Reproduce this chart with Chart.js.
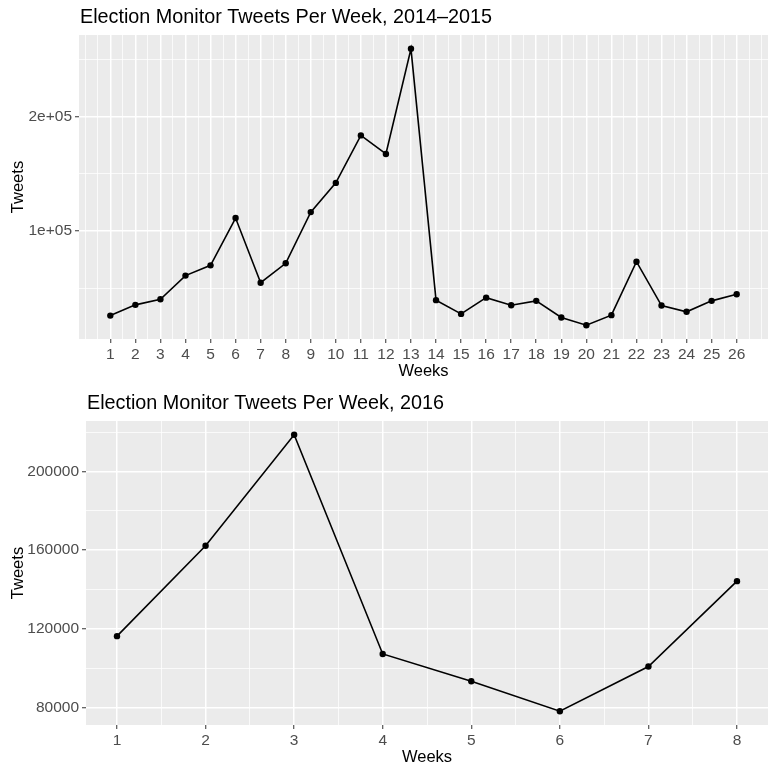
<!DOCTYPE html>
<html>
<head>
<meta charset="utf-8">
<script src="https://cdn.jsdelivr.net/npm/chart.js@4/dist/chart.umd.min.js"></script>
<style>
  html, body { margin: 0; padding: 0; background: #fff; }
  canvas { display: block; }
</style>
</head>
<body>
<canvas id="chart2014" width="772" height="386"></canvas>
<canvas id="chart2016" width="772" height="386"></canvas>
<script>
// --- data ---
const weeks2014 = [1, 2, 3, 4, 5, 6, 7, 8, 9, 10, 11, 12, 13, 14, 15, 16, 17, 18, 19, 20, 21, 22, 23, 24, 25, 26];
const tweets2014 = [26000, 35400, 40300, 61000, 70000, 111400, 54800, 71800, 116600, 142200, 183800, 167500, 259600,
                    39500, 27500, 41700, 35100, 38900, 24300, 17600, 26400, 73200, 34800, 29300, 38900, 44700];
const yTicks2014 = [100000, 200000];
const yLabels2014 = ['1e+05', '2e+05'];

const weeks2016 = [1, 2, 3, 4, 5, 6, 7, 8];
const tweets2016 = [116250, 162200, 218600, 107200, 93300, 78100, 100800, 144200];
const yTicks2016 = [80000, 120000, 160000, 200000];
const yLabels2016 = ['80000', '120000', '160000', '200000'];

const TICK_FONT = { family: '"Liberation Sans", Arial, sans-serif', size: 15.5 };
const PANEL_BG = '#EBEBEB';

// ggplot-like 5% expansion of a range
function expand(vals) {
    const lo = Math.min(...vals), hi = Math.max(...vals);
    const pad = (hi - lo) * 0.05;
    return [lo - pad, hi + pad];
}

// major breaks plus midpoints (minor breaks), one step beyond each end
function withMinor(major) {
    const step = major[1] - major[0];
    const out = [];
    for (let v = major[0] - step; v <= major[major.length - 1] + step + 1e-9; v += step / 2) {
        out.push(Math.round(v * 1000) / 1000);
    }
    return out;
}

const panelPlugin = {
    id: 'panel',
    beforeDraw(chart) {
        const a = chart.chartArea;
        const c = chart.ctx;
        c.save();
        c.fillStyle = PANEL_BG;
        c.fillRect(a.left, a.top, a.right - a.left, a.bottom - a.top);
        c.restore();
    },
    afterDraw(chart, args, opts) {
        const a = chart.chartArea;
        const c = chart.ctx;
        c.save();
        c.fillStyle = '#000';
        c.textBaseline = 'alphabetic';
        c.textAlign = 'left';
        c.font = '19.8px "Liberation Sans", Arial, sans-serif';
        c.fillText(opts.title, a.left + 1, 23);

        c.font = '16.5px "Liberation Sans", Arial, sans-serif';
        c.textAlign = 'center';
        c.textBaseline = 'middle';
        c.fillText('Weeks', (a.left + a.right) / 2, 371);

        c.translate(18.5, (a.top + a.bottom) / 2);
        c.rotate(-Math.PI / 2);
        c.fillText('Tweets', 0, 0);
        c.restore();
    }
};

function makeChart(id, o) {
    const ctx = document.getElementById(id).getContext('2d');
    const xAll = withMinor(o.weeks);
    const yAll = withMinor(o.yTicks);
    const [xMin, xMax] = expand(o.weeks);
    const [yMin, yMax] = expand(o.tweets);
    const isMajorX = v => o.weeks.includes(v);
    const isMajorY = v => o.yTicks.includes(v);

    return new Chart(ctx, {
        type: 'line',
        data: {
            datasets: [{
                data: o.weeks.map((w, i) => ({ x: w, y: o.tweets[i] })),
                borderColor: '#000',
                borderWidth: 1.6,
                pointRadius: 3.2,
                pointBorderWidth: 0,
                pointBackgroundColor: '#000',
                tension: 0,
                fill: false
            }]
        },
        options: {
            responsive: false,
            animation: false,
            devicePixelRatio: 1,
            events: [],
            layout: { padding: { top: 35, right: 2, left: 0, bottom: 0 } },
            plugins: {
                legend: { display: false },
                tooltip: { enabled: false },
                panel: { title: o.title }
            },
            scales: {
                x: {
                    type: 'linear',
                    min: xMin,
                    max: xMax,
                    afterBuildTicks: axis => { axis.ticks = xAll.filter(v => v >= xMin && v <= xMax).map(v => ({ value: v })); },
                    afterFit: axis => { axis.height = 47; },
                    border: { display: false },
                    grid: {
                        color: '#fff',
                        lineWidth: c => (c.tick && isMajorX(c.tick.value)) ? 1.5 : 0.75,
                        tickLength: 4,
                        tickWidth: 1,
                        tickColor: c => (c.tick && isMajorX(c.tick.value)) ? '#333333' : 'rgba(0,0,0,0)'
                    },
                    ticks: {
                        autoSkip: false,
                        maxRotation: 0,
                        padding: 2,
                        color: '#4D4D4D',
                        font: TICK_FONT,
                        callback: v => isMajorX(v) ? String(v) : ''
                    }
                },
                y: {
                    type: 'linear',
                    min: yMin,
                    max: yMax,
                    afterBuildTicks: axis => { axis.ticks = yAll.filter(v => v >= yMin && v <= yMax).map(v => ({ value: v })); },
                    afterFit: axis => { axis.width = o.leftWidth; },
                    border: { display: false },
                    grid: {
                        color: '#fff',
                        lineWidth: c => (c.tick && isMajorY(c.tick.value)) ? 1.5 : 0.75,
                        tickLength: 4,
                        tickWidth: 1,
                        tickColor: c => (c.tick && isMajorY(c.tick.value)) ? '#333333' : 'rgba(0,0,0,0)'
                    },
                    ticks: {
                        autoSkip: false,
                        padding: 3,
                        color: '#4D4D4D',
                        font: TICK_FONT,
                        callback: v => {
                            const i = o.yTicks.indexOf(v);
                            return i >= 0 ? o.yLabels[i] : '';
                        }
                    }
                }
            }
        },
        plugins: [panelPlugin]
    });
}

makeChart('chart2014', {
    title: 'Election Monitor Tweets Per Week, 2014\u20132015',
    weeks: weeks2014, tweets: tweets2014,
    yTicks: yTicks2014, yLabels: yLabels2014,
    leftWidth: 79
});

makeChart('chart2016', {
    title: 'Election Monitor Tweets Per Week, 2016',
    weeks: weeks2016, tweets: tweets2016,
    yTicks: yTicks2016, yLabels: yLabels2016,
    leftWidth: 86
});
</script>
</body>
</html>
